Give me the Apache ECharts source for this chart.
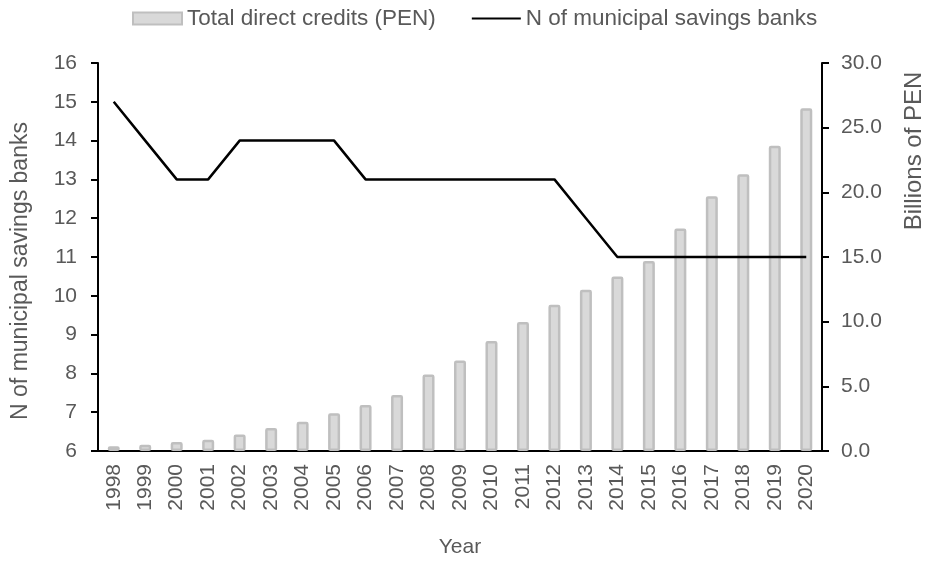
<!DOCTYPE html>
<html>
<head>
<meta charset="utf-8">
<script src="https://cdn.jsdelivr.net/npm/echarts@6/dist/echarts.min.js"></script>
<style>
  html, body { margin: 0; padding: 0; background: #fff; }
  #chart { width: 925px; height: 563px; }
</style>
</head>
<body>
<div id="chart"></div>
<script>
// data
const years = ['1998', '1999', '2000', '2001', '2002', '2003', '2004', '2005', '2006', '2007', '2008',
  '2009', '2010', '2011', '2012', '2013', '2014', '2015', '2016', '2017', '2018', '2019', '2020'];
// billions of PEN
const credits = [0.36, 0.49, 0.69, 0.87, 1.28, 1.77, 2.26, 2.92, 3.56, 4.33, 5.92,
  7.0, 8.5, 9.97, 11.3, 12.46, 13.5, 14.7, 17.2, 19.7, 21.4, 23.6, 26.5];
const banks = [15, 14, 13, 13, 14, 14, 14, 14, 13, 13, 13,
  13, 13, 13, 13, 12, 11, 11, 11, 11, 11, 11, 11];

const FONT = "'Liberation Sans', Arial, sans-serif";
const TXT = '#595959';
const FS = 21;

const chart = echarts.init(document.getElementById('chart'));

const option = {
  animation: false,
  textStyle: { fontFamily: FONT },
  legend: {
    left: 127,
    top: 2,
    itemWidth: 49,
    itemHeight: 12,
    itemGap: 35,
    textStyle: { fontSize: 22.5, color: TXT, fontFamily: FONT },
    data: [
      { name: 'Total direct credits (PEN)', icon: 'rect' },
      { name: 'N of municipal savings banks', itemStyle: { opacity: 0 } }
    ]
  },
  grid: { left: 98, right: 103, top: 63, bottom: 110 },
  xAxis: {
    type: 'category',
    data: years,
    name: 'Year',
    nameLocation: 'middle',
    nameGap: 86,
    nameTextStyle: { fontSize: FS, color: TXT },
    axisLine: { lineStyle: { color: '#000', width: 2 } },
    axisTick: { show: false },
    axisLabel: { rotate: 90, margin: 13, fontSize: FS, color: TXT }
  },
  yAxis: [
    {
      type: 'value',
      min: 6,
      max: 16,
      interval: 1,
      position: 'left',
      splitLine: { show: false },
      axisLine: { show: true, lineStyle: { color: '#000', width: 2 } },
      axisTick: { show: true, length: 7, lineStyle: { color: '#000', width: 2 } },
      axisLabel: { margin: 21, fontSize: FS, color: TXT }
    },
    {
      type: 'value',
      min: 0,
      max: 30,
      interval: 5,
      position: 'right',
      splitLine: { show: false },
      axisLine: { show: true, lineStyle: { color: '#000', width: 2 } },
      axisTick: { show: true, length: 7, lineStyle: { color: '#000', width: 2 } },
      axisLabel: {
        margin: 19, fontSize: FS, color: TXT,
        formatter: v => v.toFixed(1)
      }
    }
  ],
  graphic: [
    {
      type: 'text',
      x: 21, y: 271,
      rotation: Math.PI / 2,
      style: {
        text: 'N of municipal savings banks',
        fill: TXT, font: '23px ' + FONT,
        textAlign: 'center', textVerticalAlign: 'middle'
      }
    },
    {
      type: 'text',
      x: 914, y: 151,
      rotation: Math.PI / 2,
      style: {
        text: 'Billions of PEN',
        fill: TXT, font: '24px ' + FONT,
        textAlign: 'center', textVerticalAlign: 'middle'
      }
    }
  ],
  series: [
    {
      name: 'Total direct credits (PEN)',
      type: 'bar',
      yAxisIndex: 1,
      data: credits,
      barWidth: 12,
      itemStyle: { color: '#d9d9d9', borderColor: '#bfbfbf', borderWidth: 2.5, borderRadius: 1 },
      z: 1
    },
    {
      name: 'N of municipal savings banks',
      type: 'line',
      yAxisIndex: 0,
      data: banks,
      symbol: 'none',
      lineStyle: { color: '#000', width: 2.5 },
      itemStyle: { color: '#000' },
      z: 3
    }
  ]
};

chart.setOption(option);
</script>
</body>
</html>
